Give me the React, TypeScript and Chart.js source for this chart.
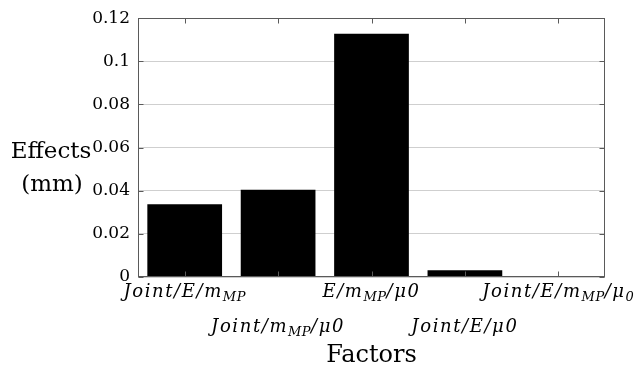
import React, { useEffect, useRef } from "react";
import { Chart, registerables } from "chart.js";
Chart.register(...registerables);

const categories = ["Joint/E/m_{MP}", "Joint/m_{MP}/μ0", "E/m_{MP}/μ0", "Joint/E/μ0", "Joint/E/m_{MP}/μ_{0}"];
const effects = [0.0337, 0.0404, 0.1128, 0.0031, 0.0004];
const yTicks = [0, 0.02, 0.04, 0.06, 0.08, 0.1, 0.12];
const yTickLabels = ["0", "0.02", "0.04", "0.06", "0.08", "0.1", "0.12"];
const xTitle = "Factors";
const yTitle = ["Effects", "(mm)"];

const SERIF = '"DejaVu Serif", serif';

function parseLabel(s: string) {
  const segs: { t: string; sub: boolean }[] = [];
  let i = 0;
  let cur = "";
  while (i < s.length) {
    if (s[i] === "_" && s[i + 1] === "{") {
      if (cur) segs.push({ t: cur, sub: false });
      cur = "";
      const end = s.indexOf("}", i);
      segs.push({ t: s.slice(i + 2, end), sub: true });
      i = end + 1;
    } else {
      cur += s[i];
      i++;
    }
  }
  if (cur) segs.push({ t: cur, sub: false });
  return segs;
}

const decor = {
  id: "decor",
  afterDraw(chart: any) {
    const { ctx, chartArea, scales } = chart;
    const { left, right, top, bottom } = chartArea;
    const x = scales.x;
    const y = scales.y;
    ctx.save();
    const L = Math.round(left) + 0.5;
    const R = Math.round(right) - 0.5;
    const T = Math.round(top) + 0.5;
    const B = Math.round(bottom) - 0.5;
    ctx.strokeStyle = "#5a5a5a";
    ctx.lineWidth = 1;
    ctx.strokeRect(L, T, R - L, B - T);
    ctx.beginPath();
    categories.forEach((_, i) => {
      const px = Math.round(x.getPixelForValue(i)) + 0.5;
      ctx.moveTo(px, T);
      ctx.lineTo(px, T + 5);
      ctx.moveTo(px, B);
      ctx.lineTo(px, B - 5);
    });
    yTicks.forEach((v) => {
      const py = Math.round(y.getPixelForValue(v)) + 0.5;
      ctx.moveTo(L, py);
      ctx.lineTo(L + 5, py);
      ctx.moveTo(R, py);
      ctx.lineTo(R - 5, py);
    });
    ctx.stroke();

    // x labels
    ctx.fillStyle = "#000";
    ctx.textBaseline = "alphabetic";
    ctx.textAlign = "left";
    const mainFont = `italic 18px ${SERIF}`;
    const subFont = `italic 13px ${SERIF}`;
    const setSeg = (sub: boolean) => {
      ctx.font = sub ? subFont : mainFont;
      ctx.letterSpacing = sub ? "0.5px" : "1.6px";
    };
    categories.forEach((lab, i) => {
      const segs = parseLabel(lab);
      let w = 0;
      segs.forEach((s) => {
        setSeg(s.sub);
        w += ctx.measureText(s.t).width;
      });
      const cx = x.getPixelForValue(i);
      let px = cx - w / 2;
      const base = bottom + (i % 2 === 0 ? 20 : 55);
      segs.forEach((s) => {
        setSeg(s.sub);
        ctx.fillText(s.t, px, base + (s.sub ? 4 : 0));
        px += ctx.measureText(s.t).width;
      });
    });
    ctx.letterSpacing = "0px";

    // titles
    ctx.textAlign = "center";
    ctx.font = `24px ${SERIF}`;
    ctx.fillText(xTitle, (left + right) / 2, 362);
    ctx.font = `23px ${SERIF}`;
    ctx.fillText(yTitle[0], 51, 158);
    ctx.fillText(yTitle[1], 52, 191);
    ctx.restore();
  },
};

export default function App() {
  const ref = useRef<HTMLCanvasElement>(null);
  useEffect(() => {
    document.body.style.margin = "0";
    const chart = new Chart(ref.current!, {
      type: "bar",
      data: {
        labels: categories,
        datasets: [
          {
            data: effects,
            backgroundColor: "#000",
            borderWidth: 0,
            barPercentage: 0.8,
            categoryPercentage: 1,
          },
        ],
      },
      options: {
        responsive: false,
        animation: false,
        devicePixelRatio: 1,
        layout: { padding: { left: 0, top: 10, right: 32, bottom: 96 } },
        plugins: { legend: { display: false }, tooltip: { enabled: false } },
        scales: {
          x: {
            ticks: { display: false },
            grid: { display: false },
            border: { display: false },
            afterFit: (s: any) => {
              s.height = 0;
            },
          },
          y: {
            min: 0,
            max: 0.12,
            afterBuildTicks: (s: any) => {
              s.ticks = yTicks.map((v) => ({ value: v }));
            },
            ticks: {
              color: "#000",
              padding: 8,
              font: { family: "DejaVu Serif", size: 17 },
              callback: (_v: any, i: number) => yTickLabels[i],
            },
            grid: { color: "#cfcfcf", drawTicks: false },
            border: { display: false },
            afterFit: (s: any) => {
              s.width = 138;
            },
          },
        },
      },
      plugins: [decor],
    } as any);
    return () => chart.destroy();
  }, []);
  return (
    <div style={{ position: "absolute", left: 0, top: 0, width: 637, height: 373, background: "#fff" }}>
      <canvas ref={ref} width={637} height={373} />
    </div>
  );
}
